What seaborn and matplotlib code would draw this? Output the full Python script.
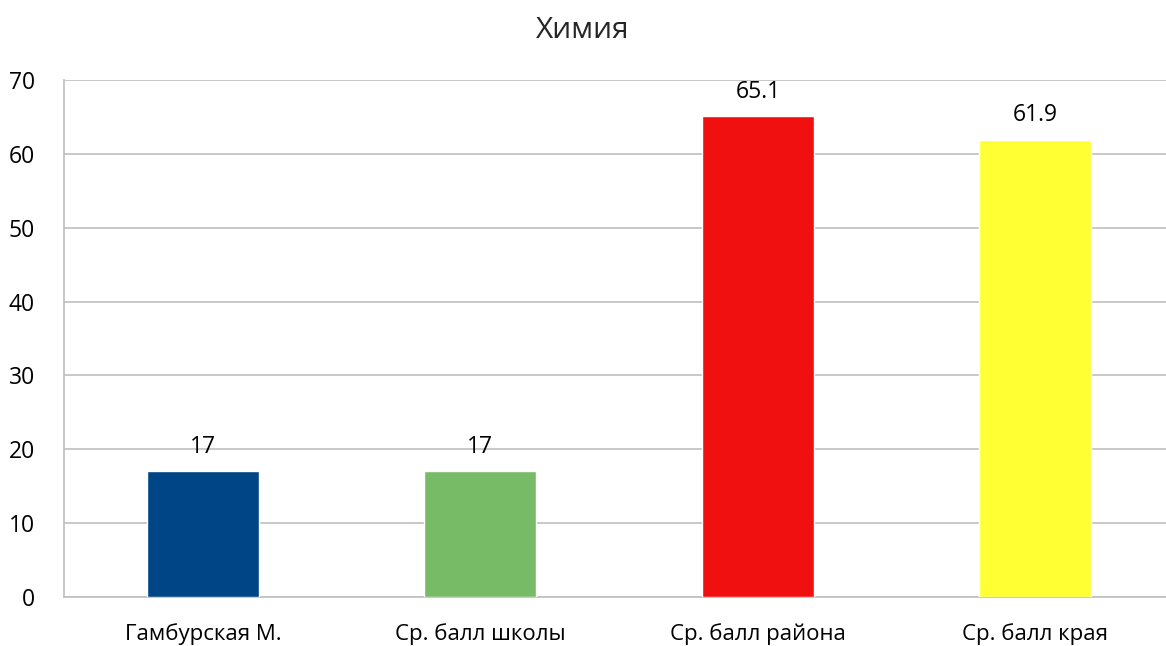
import pandas as pd
import matplotlib.pyplot as plt
import seaborn as sns

# chart data
categories = ["Гамбурская М.", "Ср. балл школы", "Ср. балл района", "Ср. балл края"]
values = [17, 17, 65.1, 61.9]
labels = ["17", "17", "65.1", "61.9"]
colors = ["#004586", "#77bb66", "#f01010", "#ffff33"]
yticks = [0, 10, 20, 30, 40, 50, 60, 70]

sns.set_style("white")
plt.rcParams['font.family'] = ['Open Sans', 'DejaVu Sans']

df = pd.DataFrame({"cat": categories, "val": values})

fig = plt.figure(figsize=(11.66, 6.46), dpi=100)
# axes run a bit past the right edge, like the original
ax = fig.add_axes([0.055, 0.076, 0.952, 0.800])

sns.barplot(data=df, x="cat", y="val", hue="cat", palette=colors, width=0.404,
            legend=False, saturation=1, ax=ax, zorder=3)

for i, c in enumerate(ax.containers):
    ax.bar_label(c, labels=[labels[i]], padding=9, fontsize=16.5, color="#000000")

ax.set_ylim(0, 70)
ax.set_yticks(yticks)
ax.yaxis.grid(True, color="#bfbfbf", linewidth=1.2, zorder=0)
ax.set_axisbelow(True)
ax.set_xlabel("")
ax.set_ylabel("")
ax.tick_params(axis="both", labelsize=16.5, length=0, colors="#000000")
ax.tick_params(axis="x", labelsize=16, pad=19)
ax.tick_params(axis="y", pad=21)

for s in ["top", "right"]:
    ax.spines[s].set_visible(False)
for s in ["left", "bottom"]:
    ax.spines[s].set_color("#bfbfbf")
    ax.spines[s].set_linewidth(1.2)

fig.suptitle("Химия", fontsize=21.5, y=0.975)

fig.savefig("out.png", dpi=100)
